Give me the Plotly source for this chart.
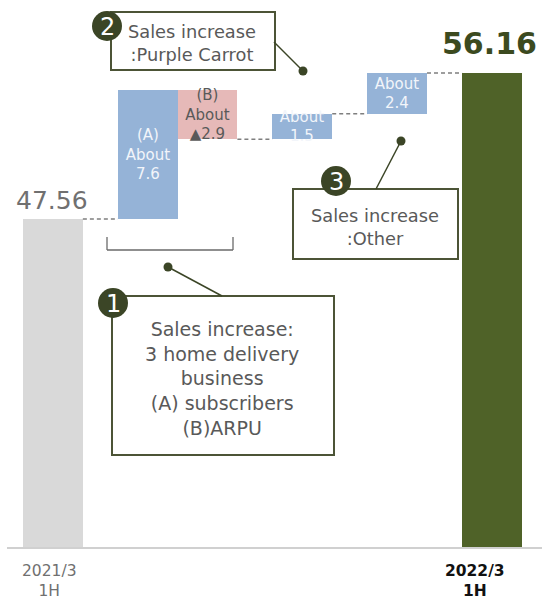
import plotly.graph_objects as go

# ---- data -------------------------------------------------------------
steps = ["2021/3 1H", "(A) subscribers", "(B) ARPU", "Purple Carrot", "Other", "2022/3 1H"]
measures = ["absolute", "relative", "relative", "relative", "relative", "total"]
values = [47.56, 7.6, -2.9, 1.5, 2.4, 56.16]
tags = ["", "(A)", "(B)", "", "", ""]
period_labels = ["2021/3<br>1H", "2022/3<br>1H"]

# ---- waterfall geometry from the values ---------------------------------
bases, heights, levels = [], [], []
running = 0.0
for m, v in zip(measures, values):
    if m == "relative":
        bases.append(running)
        heights.append(v)
        running += v
    else:
        bases.append(0.0)
        heights.append(v)
        running = v
    levels.append(round(running, 2))

def inner_text(tag, m, v):
    if m != "relative":
        return ""
    num = f"▲{abs(v):g}" if v < 0 else f"{v:g}"
    head = f"{tag}<br>" if tag else ""
    return f"{head}About<br>{num}"

bar_text = [inner_text(t, m, v) for t, m, v in zip(tags, measures, values)]

# ---- styling / layout ---------------------------------------------------
W, H = 542, 601
BOTTOM = 53                      # room for the period labels
PLOT_H = H - BOTTOM
FONT = "DejaVu Sans"
OLIVE = "#3b4526"
BOX_LINE = "#4c5436"
TXT = "#595959"

bar_x = [0, 1, 1.63, 2.63, 3.63, 4.63]
bar_w = 0.63
colors = ["#d9d9d9", "#95b3d7", "#e6b9b8", "#95b3d7", "#95b3d7", "#4f6228"]
text_colors = ["#ffffff", "#f2f5fa", "#595959", "#f2f5fa", "#f2f5fa", "#ffffff"]

x_range = [-0.559, 5.158]
y_range = [28.18, 60.46]

def px(x):
    return x / W

def py(y):
    return (PLOT_H - y) / PLOT_H

fig = go.Figure()
fig.add_trace(go.Bar(
    x=bar_x, y=heights, base=bases, width=bar_w,
    marker=dict(color=colors, line=dict(width=0)),
    text=bar_text, textposition="inside", insidetextanchor="middle",
    constraintext="none", textangle=0,
    textfont=dict(family=FONT, size=15, color=text_colors),
    hoverinfo="skip", showlegend=False,
))

shapes = []
# dashed connectors between separated bars
for i in range(len(bar_x) - 1):
    x0 = bar_x[i] + bar_w / 2
    x1 = bar_x[i + 1] - bar_w / 2
    if x1 - x0 > 1e-6:
        shapes.append(dict(type="line", xref="x", yref="y", x0=x0, x1=x1,
                           y0=levels[i], y1=levels[i],
                           line=dict(color="#7f7f7f", width=1.5, dash="4px,3px")))

# baseline
shapes.append(dict(type="line", xref="paper", yref="paper", x0=px(7), x1=px(542),
                   y0=py(548), y1=py(548), line=dict(color="#d0d0d0", width=2)))

# bracket under (A)/(B)
for seg in [((107, 237), (107, 250)), ((107, 250), (233, 250)), ((233, 250), (233, 237))]:
    (a, b), (c, d) = seg
    shapes.append(dict(type="line", xref="paper", yref="paper",
                       x0=px(a), y0=py(b), x1=px(c), y1=py(d),
                       line=dict(color="#6a6a6a", width=1.3)))

# callout boxes, leaders, dots and number badges
callouts = [
    dict(box=(112, 296, 334, 455), badge=(113, 303), num="1",
         leader=((222, 296), (168, 267)),
         text="Sales increase:<br>3 home delivery<br>business<br>(A) subscribers<br>(B)ARPU",
         tpos=(222, 378), size=19),
    dict(box=(111, 12, 275, 70), badge=(107, 26), num="2",
         leader=((274, 42), (303, 71)),
         text="Sales increase<br>:Purple Carrot", tpos=(192, 43), size=17.8),
    dict(box=(293, 189, 458, 259), badge=(336, 181), num="3",
         leader=((376, 189), (401, 141)),
         text="Sales increase<br>:Other", tpos=(375, 227), size=17.8),
]

annotations = []
R = 15
for c in callouts:
    x0, y0, x1, y1 = c["box"]
    shapes.append(dict(type="rect", xref="paper", yref="paper",
                       x0=px(x0), x1=px(x1), y0=py(y1), y1=py(y0),
                       fillcolor="white", line=dict(color=BOX_LINE, width=2)))
    (la, lb), (lc, ld) = c["leader"]
    shapes.append(dict(type="line", xref="paper", yref="paper",
                       x0=px(la), y0=py(lb), x1=px(lc), y1=py(ld),
                       line=dict(color=OLIVE, width=1.5)))
    shapes.append(dict(type="circle", xref="paper", yref="paper",
                       x0=px(lc - 4.5), x1=px(lc + 4.5), y0=py(ld + 4.5), y1=py(ld - 4.5),
                       fillcolor=OLIVE, line=dict(width=0)))
    bx, by = c["badge"]
    shapes.append(dict(type="circle", xref="paper", yref="paper",
                       x0=px(bx - R), x1=px(bx + R), y0=py(by + R), y1=py(by - R),
                       fillcolor=OLIVE, line=dict(width=0)))
    annotations.append(dict(xref="paper", yref="paper", x=px(bx), y=py(by + 1),
                            text=c["num"], showarrow=False,
                            font=dict(family=FONT, size=24, color="white"),
                            xanchor="center", yanchor="middle"))
    tx, ty = c["tpos"]
    annotations.append(dict(xref="paper", yref="paper", x=px(tx), y=py(ty),
                            text=c["text"], showarrow=False, align="center",
                            font=dict(family=FONT, size=c["size"], color=TXT),
                            xanchor="center", yanchor="middle"))

# start / end value labels
annotations.append(dict(xref="x", yref="y", x=bar_x[0], y=levels[0],
                        text=f"{values[0]:.2f}", showarrow=False,
                        yanchor="bottom", yshift=2, xshift=-1,
                        font=dict(family=FONT, size=25, color="#707070")))
annotations.append(dict(xref="x", yref="y", x=bar_x[-1], y=levels[-1],
                        text=f"<b>{values[-1]:.2f}</b>", showarrow=False,
                        yanchor="bottom", yshift=10, xshift=-2,
                        font=dict(family=FONT, size=30, color="#3c4a1f")))

# period labels under the axis
label_styles = [
    dict(x=bar_x[0], xshift=-4, color="#707070", bold=False),
    dict(x=bar_x[-1], xshift=-17, color="#111111", bold=True),
]
for label, st in zip(period_labels, label_styles):
    txt = f"<b>{label}</b>" if st["bold"] else label
    annotations.append(dict(xref="x", yref="paper", x=st["x"], y=py(601),
                            text=txt, showarrow=False, yanchor="bottom",
                            xshift=st["xshift"], align="center", borderpad=0,
                            font=dict(family=FONT, size=15.5, color=st["color"])))

fig.update_layout(
    width=W, height=H,
    margin=dict(l=0, r=0, t=0, b=BOTTOM, pad=0),
    paper_bgcolor="white", plot_bgcolor="white",
    xaxis=dict(range=x_range, visible=False, fixedrange=True),
    yaxis=dict(range=y_range, visible=False, fixedrange=True),
    shapes=shapes, annotations=annotations,
    bargap=0, showlegend=False,
    font=dict(family=FONT),
)

fig.write_html("out.html")
